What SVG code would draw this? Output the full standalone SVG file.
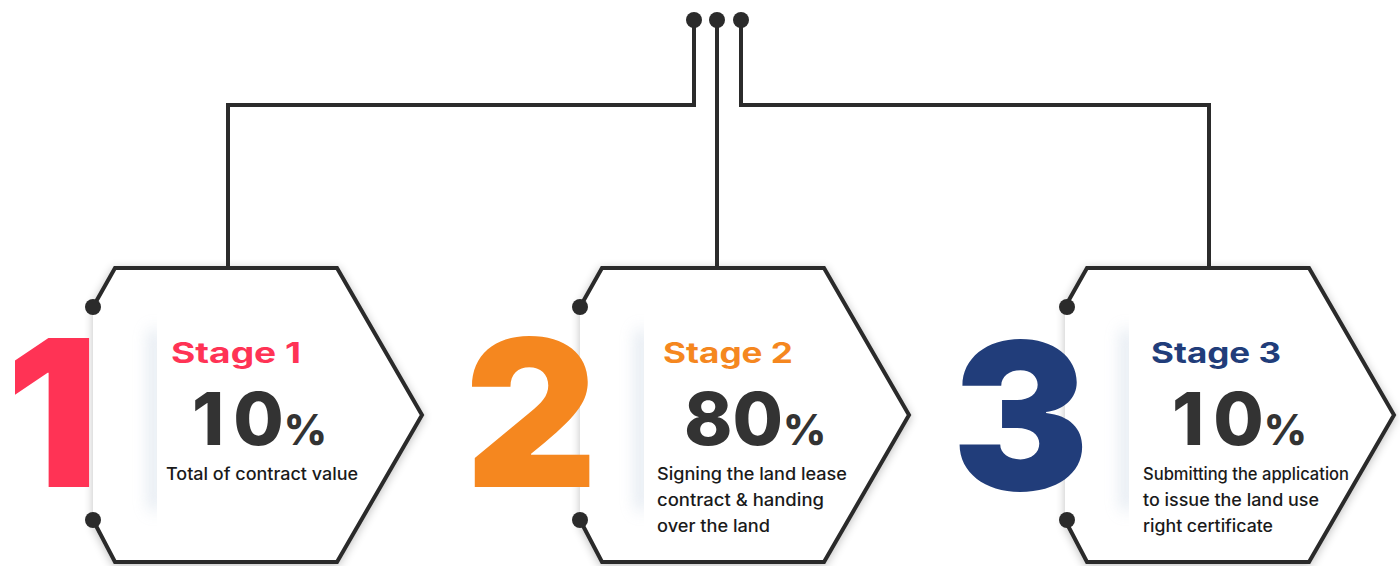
<svg xmlns="http://www.w3.org/2000/svg" width="1400" height="566" viewBox="0 0 1400 566">
<defs>
<style>
.hex{fill:#fff;stroke:#2b2b2b;stroke-width:4;stroke-linejoin:miter;filter:url(#sh)}
.wire{fill:none;stroke:#2b2b2b;stroke-width:4}
.dot{fill:#2b2b2b}
.big{font-family:Inter,"Liberation Sans",sans-serif;font-weight:900;font-size:205px}
.stage{font-family:Inter,"Liberation Sans",sans-serif;font-weight:700;font-size:28px}
.pct{font-family:Inter,"Liberation Sans",sans-serif;font-weight:800;font-size:73px;fill:#333}
.pcts{font-size:42px}
.desc{font-family:Inter,"Liberation Sans",sans-serif;font-weight:500;font-size:17px;fill:#1a1a1a}
.soft{fill:#b9c9dc;opacity:0.55;filter:url(#blur)}
</style>
<filter id="sh" x="-10%" y="-10%" width="120%" height="120%">
<feGaussianBlur in="SourceAlpha" stdDeviation="5"/>
<feOffset dx="0" dy="2"/>
<feComponentTransfer><feFuncA type="linear" slope="0.25"/></feComponentTransfer>
<feMerge><feMergeNode/><feMergeNode in="SourceGraphic"/></feMerge>
</filter>
<filter id="blur" x="-300%" y="-20%" width="700%" height="140%">
<feGaussianBlur stdDeviation="8"/>
</filter>
<clipPath id="clipL"><rect x="100" y="290" width="57" height="250"/></clipPath>
<path id="hexp" d="M93,307 L115,268 L337,268 L422,415 L337,562 L115,562 L93,520"/>
</defs>
<rect width="1400" height="566" fill="#fff"/>
<g id="connectors">
<path class="wire" d="M228,268 V105 H694 V20"/>
<path class="wire" d="M717,20 V268"/>
<path class="wire" d="M741,20 V105 H1209 V268"/>
<circle class="dot" cx="694" cy="20" r="8"/>
<circle class="dot" cx="717" cy="20" r="8"/>
<circle class="dot" cx="741" cy="20" r="8"/>
</g>
<g id="stage1">
<use href="#hexp" class="hex"/>
<g clip-path="url(#clipL)"><rect class="soft" x="150" y="330" width="10" height="180"/></g>
<circle class="dot" cx="93" cy="307" r="8"/>
<circle class="dot" cx="93" cy="520" r="8"/>
<text class="big" x="6" y="487" fill="#ff3355">1</text>
<text class="stage" x="171" y="363" fill="#ff3355" textLength="130" lengthAdjust="spacingAndGlyphs">Stage 1</text>
<text class="pct" x="192" y="445">1<tspan dx="9">0</tspan><tspan class="pcts" dx="0">%</tspan></text>
<text class="desc" x="166" y="480" textLength="192" lengthAdjust="spacingAndGlyphs">Total of contract value</text>
</g>
<g id="stage2" transform="translate(487,0)">
<use href="#hexp" class="hex"/>
<g clip-path="url(#clipL)"><rect class="soft" x="150" y="330" width="10" height="180"/></g>
<circle class="dot" cx="93" cy="307" r="8"/>
<circle class="dot" cx="93" cy="520" r="8"/>
<text class="big" x="-22" y="487" fill="#f5871f">2</text>
<text class="stage" x="176" y="363" fill="#f5871f" textLength="130" lengthAdjust="spacingAndGlyphs">Stage 2</text>
<text class="pct" x="197" y="445">80<tspan class="pcts">%</tspan></text>
<text class="desc" x="170" y="480" textLength="190" lengthAdjust="spacingAndGlyphs">Signing the land lease</text>
<text class="desc" x="170" y="506" textLength="167" lengthAdjust="spacingAndGlyphs">contract &amp; handing</text>
<text class="desc" x="170" y="532" textLength="113" lengthAdjust="spacingAndGlyphs">over the land</text>
</g>
<g id="stage3" transform="translate(972,0)">
<use href="#hexp" class="hex"/>
<g clip-path="url(#clipL)"><rect class="soft" x="150" y="330" width="10" height="180"/></g>
<circle class="dot" cx="95" cy="307" r="8"/>
<circle class="dot" cx="95" cy="520" r="8"/>
<text class="big" x="-20" y="490" fill="#213d7a">3</text>
<text class="stage" x="179" y="363" fill="#213d7a" textLength="130" lengthAdjust="spacingAndGlyphs">Stage 3</text>
<text class="pct" x="200" y="445">1<tspan dx="9">0</tspan><tspan class="pcts" dx="0">%</tspan></text>
<text class="desc" x="171" y="480" textLength="206" lengthAdjust="spacingAndGlyphs">Submitting the application</text>
<text class="desc" x="171" y="506" textLength="176" lengthAdjust="spacingAndGlyphs">to issue the land use</text>
<text class="desc" x="171" y="532" textLength="130" lengthAdjust="spacingAndGlyphs">right certificate</text>
</g>
</svg>
